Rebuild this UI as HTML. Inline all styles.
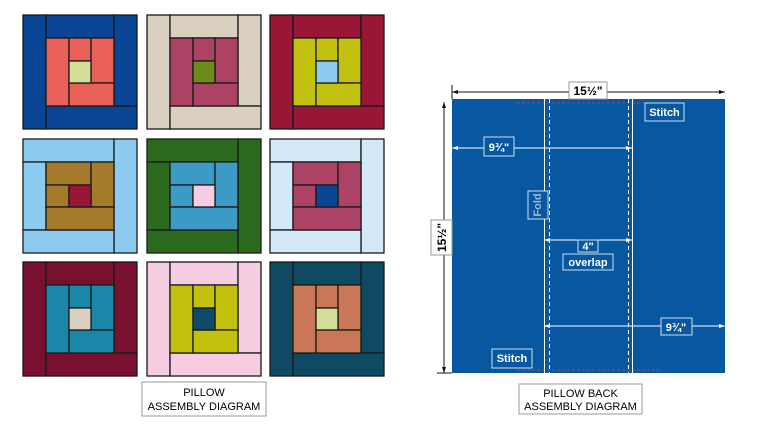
<!DOCTYPE html>
<html><head><style>body{margin:0;background:#fff}svg{display:block}</style></head><body>
<svg width="769" height="445" xmlns="http://www.w3.org/2000/svg" font-family="Liberation Sans, sans-serif">
<g stroke="#1a1a1a" stroke-width="1.3">
<g transform="translate(23,15)"><g fill="#0a4595"><rect x="0" y="0" width="23" height="114"/><rect x="23" y="0" width="68" height="23"/><rect x="91" y="0" width="23" height="91"/><rect x="23" y="91" width="91" height="23"/></g><g fill="#e86057"><rect x="23" y="23" width="23" height="68"/><rect x="46" y="23" width="22" height="23"/><rect x="68" y="23" width="23" height="45"/><rect x="46" y="68" width="45" height="23"/></g><rect x="46" y="46" width="22" height="22" fill="#d4dc98"/></g>
<g transform="translate(147,15)"><g fill="#d9d0c0"><rect x="0" y="0" width="23" height="114"/><rect x="23" y="0" width="68" height="23"/><rect x="91" y="0" width="23" height="91"/><rect x="23" y="91" width="91" height="23"/></g><g fill="#ad4364"><rect x="23" y="23" width="23" height="68"/><rect x="46" y="23" width="22" height="23"/><rect x="68" y="23" width="23" height="45"/><rect x="46" y="68" width="45" height="23"/></g><rect x="46" y="46" width="22" height="22" fill="#6e8c1c"/></g>
<g transform="translate(270,15)"><g fill="#9a1637"><rect x="0" y="0" width="23" height="114"/><rect x="23" y="0" width="68" height="23"/><rect x="91" y="0" width="23" height="91"/><rect x="23" y="91" width="91" height="23"/></g><g fill="#c2c10f"><rect x="23" y="23" width="23" height="68"/><rect x="46" y="23" width="22" height="23"/><rect x="68" y="23" width="23" height="45"/><rect x="46" y="68" width="45" height="23"/></g><rect x="46" y="46" width="22" height="22" fill="#8ccbef"/></g>
<g transform="translate(23,139)"><g fill="#8ccbef"><rect x="0" y="0" width="91" height="23"/><rect x="91" y="0" width="23" height="114"/><rect x="0" y="23" width="23" height="68"/><rect x="0" y="91" width="91" height="23"/></g><g fill="#a57a2a"><rect x="23" y="23" width="45" height="23"/><rect x="68" y="23" width="23" height="45"/><rect x="23" y="46" width="23" height="22"/><rect x="23" y="68" width="68" height="23"/></g><rect x="46" y="46" width="22" height="22" fill="#9a1637"/></g>
<g transform="translate(147,139)"><g fill="#2c6b1f"><rect x="0" y="0" width="91" height="23"/><rect x="91" y="0" width="23" height="114"/><rect x="0" y="23" width="23" height="68"/><rect x="0" y="91" width="91" height="23"/></g><g fill="#3c9ac6"><rect x="23" y="23" width="45" height="23"/><rect x="68" y="23" width="23" height="45"/><rect x="23" y="46" width="23" height="22"/><rect x="23" y="68" width="68" height="23"/></g><rect x="46" y="46" width="22" height="22" fill="#f6cde0"/></g>
<g transform="translate(270,139)"><g fill="#d3e9f8"><rect x="0" y="0" width="91" height="23"/><rect x="91" y="0" width="23" height="114"/><rect x="0" y="23" width="23" height="68"/><rect x="0" y="91" width="91" height="23"/></g><g fill="#ad4364"><rect x="23" y="23" width="45" height="23"/><rect x="68" y="23" width="23" height="45"/><rect x="23" y="46" width="23" height="22"/><rect x="23" y="68" width="68" height="23"/></g><rect x="46" y="46" width="22" height="22" fill="#0a4595"/></g>
<g transform="translate(23,262)"><g fill="#7a1030"><rect x="0" y="0" width="23" height="114"/><rect x="23" y="0" width="68" height="23"/><rect x="91" y="0" width="23" height="91"/><rect x="23" y="91" width="91" height="23"/></g><g fill="#1a86a8"><rect x="23" y="23" width="23" height="68"/><rect x="46" y="23" width="22" height="23"/><rect x="68" y="23" width="23" height="45"/><rect x="46" y="68" width="45" height="23"/></g><rect x="46" y="46" width="22" height="22" fill="#d9d0c0"/></g>
<g transform="translate(147,262)"><g fill="#f6cde0"><rect x="0" y="0" width="23" height="114"/><rect x="23" y="0" width="68" height="23"/><rect x="91" y="0" width="23" height="91"/><rect x="23" y="91" width="91" height="23"/></g><g fill="#c2c10f"><rect x="23" y="23" width="23" height="68"/><rect x="46" y="23" width="22" height="23"/><rect x="68" y="23" width="23" height="45"/><rect x="46" y="68" width="45" height="23"/></g><rect x="46" y="46" width="22" height="22" fill="#0e4a6a"/></g>
<g transform="translate(270,262)"><g fill="#0e4a62"><rect x="0" y="0" width="23" height="114"/><rect x="23" y="0" width="68" height="23"/><rect x="91" y="0" width="23" height="91"/><rect x="23" y="91" width="91" height="23"/></g><g fill="#c97756"><rect x="23" y="23" width="23" height="68"/><rect x="46" y="23" width="22" height="23"/><rect x="68" y="23" width="23" height="45"/><rect x="46" y="68" width="45" height="23"/></g><rect x="46" y="46" width="22" height="22" fill="#d4dc98"/></g>
</g>
<rect x="142" y="382" width="124" height="34" fill="#fff" stroke="#999"/>
<text x="204" y="396" font-size="11" text-anchor="middle">PILLOW</text>
<text x="204" y="410" font-size="11" text-anchor="middle">ASSEMBLY DIAGRAM</text>
<rect x="519" y="384" width="123" height="30" fill="#fff" stroke="#999"/>
<text x="580.5" y="397" font-size="11" text-anchor="middle">PILLOW BACK</text>
<text x="580.5" y="410" font-size="11" text-anchor="middle">ASSEMBLY DIAGRAM</text>
<rect x="452" y="99" width="273" height="274" fill="#0758a0"/>
<line x1="517" y1="103" x2="660" y2="103" stroke="#a0406a" stroke-dasharray="3,2"/>
<line x1="517" y1="370" x2="660" y2="370" stroke="#a0406a" stroke-dasharray="3,2"/>
<g stroke="#fff">
<line x1="544.5" y1="99" x2="544.5" y2="373"/>
<line x1="632.5" y1="99" x2="632.5" y2="373"/>
<line x1="549.5" y1="99" x2="549.5" y2="373" stroke-dasharray="4,3"/>
<line x1="628.5" y1="99" x2="628.5" y2="373" stroke-dasharray="4,3"/>
<line x1="452" y1="148" x2="632" y2="148"/>
<line x1="544" y1="240" x2="632" y2="240"/>
<line x1="544" y1="326" x2="725" y2="326"/>
</g>
<g fill="#fff"><polygon points="452,148 458,146 458,150"/><polygon points="632,148 626,146 626,150"/>
<polygon points="544,240 550,238 550,242"/><polygon points="632,240 626,238 626,242"/>
<polygon points="544,326 550,324 550,328"/><polygon points="725,326 719,324 719,328"/></g>
<g fill="#0758a0" stroke="#cfe0f0">
<rect x="484" y="137" width="30" height="19"/><rect x="578" y="240" width="20" height="12"/>
<rect x="563" y="254" width="50" height="16"/><rect x="661" y="318" width="31" height="17"/>
<rect x="528" y="191" width="20" height="28"/><rect x="645" y="103" width="39" height="18"/>
<rect x="492" y="349" width="40" height="19"/></g>
<g fill="#fff" font-weight="bold" font-size="11">
<text x="499" y="151" text-anchor="middle">9¾"</text>
<text x="588" y="250" text-anchor="middle">4"</text>
<text x="588" y="266" text-anchor="middle">overlap</text>
<text x="676" y="331" text-anchor="middle">9¾"</text>
<text x="664.5" y="116" text-anchor="middle">Stitch</text>
<text x="512" y="362" text-anchor="middle">Stitch</text>
<text x="0" y="0" text-anchor="middle" fill="#9ab8da" transform="translate(541,205) rotate(-90)">Fold</text>
</g>
<g stroke="#111">
<line x1="452" y1="85" x2="452" y2="99"/><line x1="452" y1="92" x2="725" y2="92"/>
<line x1="444" y1="102" x2="444" y2="373"/><line x1="437" y1="373" x2="452" y2="373"/>
</g>
<g fill="#111"><polygon points="452,92 458,90 458,94"/><polygon points="725,92 719,90 719,94"/>
<polygon points="444,102 442,108 446,108"/><polygon points="444,373 442,367 446,367"/></g>
<rect x="569" y="82" width="38" height="17" fill="#fff" stroke="#999"/>
<text x="588" y="95" font-size="12" font-weight="bold" text-anchor="middle">15½"</text>
<rect x="431" y="220" width="21" height="35" fill="#fff" stroke="#999"/>
<text x="0" y="0" font-size="12" font-weight="bold" text-anchor="middle" transform="translate(446,237.5) rotate(-90)">15½"</text>
</svg>
</body></html>
